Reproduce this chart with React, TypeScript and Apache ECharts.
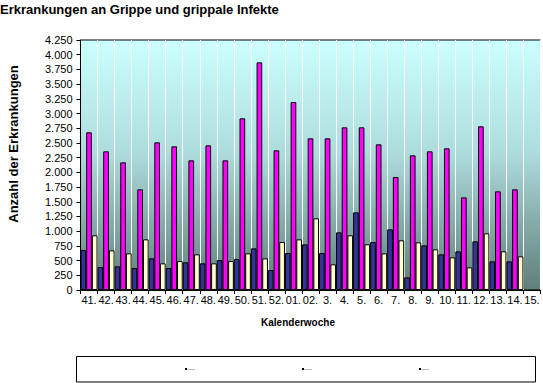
import React, { useEffect, useRef } from "react";
import * as echarts from "echarts";

const weeks = ["41.", "42.", "43.", "44.", "45.", "46.", "47.", "48.", "49.", "50.", "51.", "52.", "01.", "02.", "3.", "4.", "5.", "6.", "7.", "8.", "9.", "10.", "11.", "12.", "13.", "14.", "15."];
const seriesBlue = [680, 391, 402, 374, 538, 374, 470, 453, 510, 527, 708, 340, 629, 776, 629, 980, 1320, 816, 1031, 215, 759, 606, 657, 827, 487, 487, null];
const seriesMagenta = [2680, 2357, 2170, 1711, 2510, 2442, 2204, 2459, 2204, 2918, 3870, 2374, 3196, 2578, 2578, 2765, 2765, 2476, 1921, 2289, 2357, 2408, 1575, 2782, 1677, 1711, null];
const seriesYellow = [929, 674, 623, 861, 453, 493, 606, 453, 493, 623, 538, 816, 861, 1218, 436, 929, 776, 623, 844, 810, 691, 555, 385, 963, 657, 572, null];

const FONT = "'Liberation Sans', Arial, sans-serif";

export default function App() {
  const ref = useRef<HTMLDivElement>(null);
  useEffect(() => {
    const chart = echarts.init(ref.current!, null, { renderer: "svg" });
    const barStyle = (color: string) => ({ color, borderColor: "#000", borderWidth: 1 });
    chart.setOption({
      animation: false,
      backgroundColor: "#fff",
      textStyle: { fontFamily: FONT },
      grid: {
        left: 80.5,
        right: 2.5,
        top: 40,
        bottom: 93,
        show: true,
        borderColor: "#000",
        borderWidth: 1,
        backgroundColor: new echarts.graphic.LinearGradient(0, 0, 0, 1, [
          { offset: 0, color: "#CCFFFF" },
          { offset: 0.45, color: "#AEDCDC" },
          { offset: 1, color: "#5F7E7A" },
        ]),
      },
      xAxis: {
        type: "category",
        data: weeks,
        axisLine: { lineStyle: { color: "#000", width: 1 } },
        axisTick: { show: true, interval: 0, length: 4, lineStyle: { color: "#000" } },
        axisLabel: { interval: 0, color: "#000", fontSize: 11, fontFamily: FONT, margin: 4 },
        splitLine: { show: true, interval: 0, lineStyle: { color: "#fff", width: 1 } },
      },
      yAxis: {
        type: "value",
        min: 0,
        max: 4250,
        interval: 250,
        axisLine: { show: true, lineStyle: { color: "#000", width: 1 } },
        axisTick: { show: true, length: 4, lineStyle: { color: "#000" } },
        splitLine: { show: false },
        axisLabel: {
          color: "#000",
          fontSize: 11,
          fontFamily: FONT,
          margin: 8,
          formatter: (v: number) => v.toLocaleString("de-DE"),
        },
      },
      series: [
        { name: "Serie 1", type: "bar", data: seriesBlue, itemStyle: barStyle("#333399"), barGap: "0%", barCategoryGap: "0%" },
        { name: "Serie 2", type: "bar", data: seriesMagenta, itemStyle: barStyle("#FF00FF"), barGap: "0%", barCategoryGap: "0%" },
        { name: "Serie 3", type: "bar", data: seriesYellow, itemStyle: barStyle("#FFFFCC"), barGap: "0%", barCategoryGap: "0%" },
      ],
      graphic: [
        {
          type: "text",
          left: 0,
          top: 3,
          style: { text: "Erkrankungen an Grippe und grippale Infekte", font: `bold 13px ${FONT}`, fill: "#000" },
        },
        {
          type: "text",
          x: 13,
          y: 144,
          rotation: Math.PI / 2,
          style: { text: "Anzahl der Erkrankungen", font: `bold 13px ${FONT}`, fill: "#000", align: "center", verticalAlign: "middle" },
        },
        {
          type: "text",
          x: 298,
          y: 322,
          style: { text: "Kalenderwoche", font: `bold 10px ${FONT}`, fill: "#000", align: "center", verticalAlign: "middle" },
        },
        {
          type: "rect",
          shape: { x: 76.5, y: 356.5, width: 459, height: 25.5 },
          style: { fill: "#fff", stroke: "#000", lineWidth: 1 },
        },
        { type: "rect", shape: { x: 185, y: 368, width: 2, height: 2 }, style: { fill: "#000" } },
        { type: "line", shape: { x1: 187, y1: 369.5, x2: 195, y2: 369.5 }, style: { stroke: "#bbb", lineWidth: 1 } },
        { type: "rect", shape: { x: 302, y: 368, width: 2, height: 2 }, style: { fill: "#000" } },
        { type: "line", shape: { x1: 304, y1: 369.5, x2: 312, y2: 369.5 }, style: { stroke: "#bbb", lineWidth: 1 } },
        { type: "rect", shape: { x: 419, y: 368, width: 2, height: 2 }, style: { fill: "#000" } },
        { type: "line", shape: { x1: 421, y1: 369.5, x2: 429, y2: 369.5 }, style: { stroke: "#bbb", lineWidth: 1 } },
      ],
    });
    return () => chart.dispose();
  }, []);
  return <div ref={ref} style={{ width: 543, height: 383, position: "absolute", left: 0, top: 0 }} />;
}
